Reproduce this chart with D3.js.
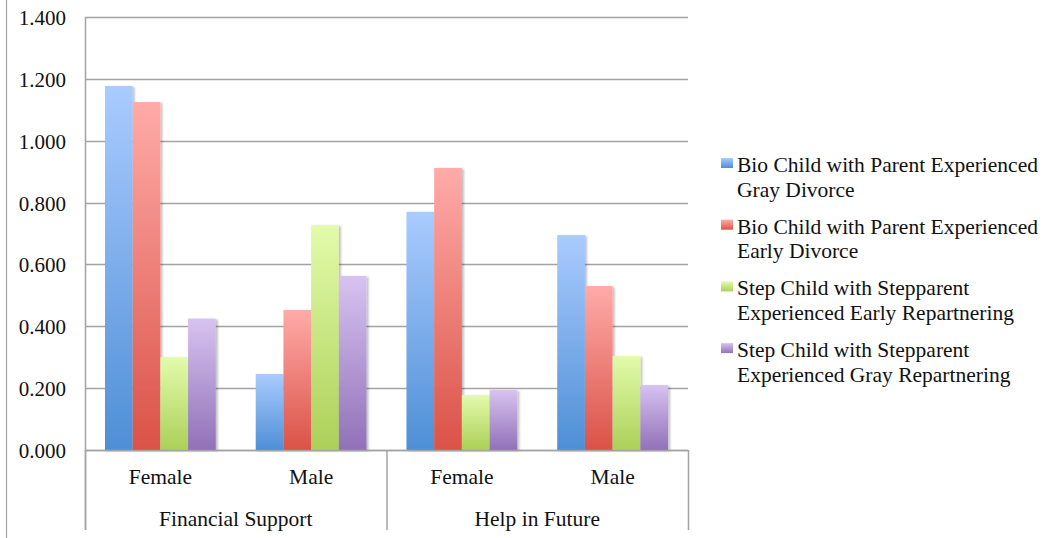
<!DOCTYPE html>
<html>
<head>
<meta charset="utf-8">
<script src="https://cdn.jsdelivr.net/npm/d3@7"></script>
<style>
  html, body { margin: 0; padding: 0; background: #fff; }
  svg { display: block; }
  text { font-family: "Liberation Serif", "Times New Roman", serif; fill: #111; }
</style>
</head>
<body>
<svg id="chart" width="1052" height="538"></svg>
<script>
// Data
const groups = ["Financial Support", "Help in Future"];
const subCategories = ["Female", "Male"];
const seriesNames = [
  ["Bio Child with Parent Experienced", "Gray Divorce"],
  ["Bio Child with Parent Experienced", "Early Divorce"],
  ["Step Child with Stepparent", "Experienced Early Repartnering"],
  ["Step Child with Stepparent", "Experienced Gray Repartnering"]
];
const bioGray   = [1.177, 0.246, 0.770, 0.695];
const bioEarly  = [1.125, 0.453, 0.912, 0.530];
const stepEarly = [0.300, 0.727, 0.178, 0.304];
const stepGray  = [0.425, 0.563, 0.194, 0.210];
const yTicks = [0, 0.2, 0.4, 0.6, 0.8, 1.0, 1.2, 1.4];

const seriesValues = [bioGray, bioEarly, stepEarly, stepGray];
const gradStops = [
  ["#aacbff", "#4e8fd6"],
  ["#ffaba8", "#da5247"],
  ["#e3fbab", "#acd058"],
  ["#d7c3f0", "#9171b8"]
];

const svg = d3.select("#chart");
const plotLeft = 85, plotRight = 688, plotTop = 17, plotBottom = 450;

// category slots: group x sub-category
const slots = [];
groups.forEach(g => subCategories.forEach(s => slots.push(g + "|" + s)));

const x0 = d3.scaleBand().domain(slots).range([plotLeft, plotRight]).paddingInner(0.265).paddingOuter(0.1325);
const x1 = d3.scaleBand().domain(d3.range(seriesValues.length)).range([0, x0.bandwidth()]);
const y = d3.scaleLinear().domain([0, 1.4]).range([plotBottom, plotTop]);

// gradients and soft bar shadow
const defs = svg.append("defs");
gradStops.forEach((c, i) => {
  const g = defs.append("linearGradient").attr("id", "grad" + i)
    .attr("x1", 0).attr("y1", 0).attr("x2", 0).attr("y2", 1);
  g.append("stop").attr("offset", "0%").attr("stop-color", c[0]);
  g.append("stop").attr("offset", "100%").attr("stop-color", c[1]);
});
const f = defs.append("filter").attr("id", "shadow")
  .attr("x", "-20%").attr("y", "-5%").attr("width", "150%").attr("height", "115%");
f.append("feDropShadow").attr("dx", 2).attr("dy", 1).attr("stdDeviation", 1.2)
  .attr("flood-color", "#000").attr("flood-opacity", 0.25);

// outer border line on the left
svg.append("line").attr("x1", 6.5).attr("x2", 6.5).attr("y1", 0).attr("y2", 538)
  .attr("stroke", "#a6a6a6").attr("stroke-width", 1.2);

// horizontal gridlines
svg.append("g").selectAll("line").data(yTicks).join("line")
  .attr("x1", plotLeft).attr("x2", plotRight)
  .attr("y1", d => Math.round(y(d)) + 0.5).attr("y2", d => Math.round(y(d)) + 0.5)
  .attr("stroke", "#a3a3a3").attr("stroke-width", 1.5);

// y tick labels
const yFmt = d3.format(".3f");
svg.append("g").selectAll("text").data(yTicks).join("text")
  .attr("x", 66).attr("y", d => y(d) + 8)
  .attr("text-anchor", "end").style("font-size", "21px")
  .text(d => yFmt(d));

// left axis line
svg.append("line").attr("x1", plotLeft + 0.5).attr("x2", plotLeft + 0.5).attr("y1", plotTop).attr("y2", 530)
  .attr("stroke", "#a3a3a3").attr("stroke-width", 1.5);

// bars
const barG = svg.append("g");
slots.forEach((slot, ci) => {
  seriesValues.forEach((vals, si) => {
    const v = vals[ci];
    barG.append("rect")
      .attr("x", x0(slot) + x1(si))
      .attr("y", y(v))
      .attr("width", x1.bandwidth())
      .attr("height", y(0) - y(v))
      .attr("fill", `url(#grad${si})`)
      .attr("filter", "url(#shadow)");
  });
});

// bottom baseline redrawn over bar shadows
svg.append("line").attr("x1", plotLeft).attr("x2", plotRight)
  .attr("y1", Math.round(y(0)) + 0.5).attr("y2", Math.round(y(0)) + 0.5)
  .attr("stroke", "#a3a3a3").attr("stroke-width", 1.5);

// group separators for the two-level category axis
const groupWidth = (plotRight - plotLeft) / groups.length;
d3.range(groups.length + 1).forEach(i => {
  const gx = plotLeft + i * groupWidth;
  svg.append("line").attr("x1", gx + 0.5).attr("x2", gx + 0.5)
    .attr("y1", plotBottom).attr("y2", 530)
    .attr("stroke", "#a3a3a3").attr("stroke-width", 1.5);
});

// sub-category labels
svg.append("g").selectAll("text").data(slots).join("text")
  .attr("x", d => x0(d) + x0.bandwidth() / 2)
  .attr("y", 484)
  .attr("text-anchor", "middle").style("font-size", "21.5px")
  .text(d => d.split("|")[1]);

// group labels
svg.append("g").selectAll("text").data(groups).join("text")
  .attr("x", (d, i) => plotLeft + (i + 0.5) * groupWidth)
  .attr("y", 526)
  .attr("text-anchor", "middle").style("font-size", "21.5px")
  .text(d => d);

// legend
const legend = svg.append("g");
seriesNames.forEach((lines, i) => {
  const ly = 172 + i * 61.7;
  legend.append("rect")
    .attr("x", 721).attr("y", ly - 14).attr("width", 12).attr("height", 10)
    .attr("fill", `url(#grad${i})`);
  lines.forEach((t, j) => {
    legend.append("text")
      .attr("x", 737).attr("y", ly + j * 24.5)
      .style("font-size", "21.5px")
      .text(t);
  });
});
</script>
</body>
</html>
